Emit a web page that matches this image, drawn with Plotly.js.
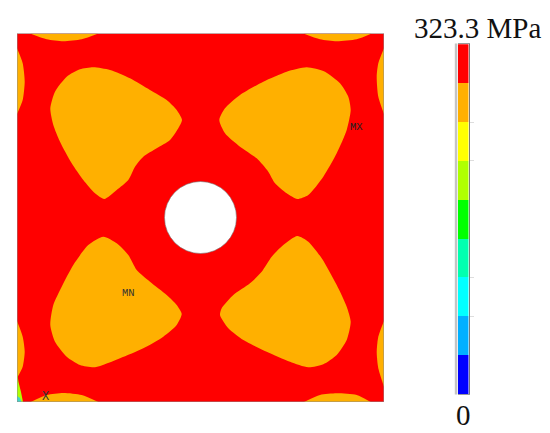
<!DOCTYPE html>
<html>
<head>
<meta charset="utf-8">
<script src="https://cdn.plot.ly/plotly-3.0.1.min.js"></script>
<style>html,body{margin:0;padding:0;background:#fff}</style>
</head>
<body>
<div id="graph" style="width:550px;height:433px"></div>
<script>
// contour outlines, x/y in plate units
var plateX = [17, 384, 384, 17, 17];
var plateY = [33.5, 33.5, 402, 402, 33.5];

var blobTLx = [93.3,110,130,150,166.7,176.7,182,178.3,170,156.7,143.3,135,128.3,116.7,104.3,95,83.3,71.7,60,53.3,50.3,55,66.7,80,93.3];
var blobTLy = [67.3,70,78.3,90,100,110,120,128.3,140,148.3,156.7,166.7,180,190,199,193.3,180,163.3,141.7,125,108.3,91.7,76.7,69.3,67.3];
var blobTRx = [306.7,325,340,348.3,350.7,346.7,336.7,323.3,308.3,297.3,286.7,275,268.3,256.7,240,225,219.3,225,240,263.3,286.7,306.7];
var blobTRy = [67.3,71.7,83.3,96.7,110,130,153.3,176.7,195,199,193.3,183.3,171.7,158.3,146.7,133.3,120,108.3,95,81.7,71.7,67.3];
var blobBLx = [103.3,116.7,128.3,136.7,150,166.7,176.7,181.7,176.7,163.3,143.3,120,95,80,66.7,55,50.3,53.3,61.7,73.3,88.3,103.3];
var blobBLy = [236.7,243.3,255,270,281.7,295,305,314,325,336.7,348.3,358.3,367.3,365,356.7,341.7,325,305,286.7,265,245,236.7];
var blobBRx = [297.3,308.3,321.7,336.7,346.7,350.7,346.7,336.7,323.3,308.3,290,266.7,243.3,228.3,220,221.7,233.3,250,261.7,271.7,283.3,297.3];
var blobBRy = [236,241.7,258.3,285,306.7,321.7,340,355,364.3,367.3,361.7,351.7,340,328.3,315,308.3,295,283.3,271.7,256.7,245,236];

var capTLx = [30,46.7,63.3,81.7,98.3], capTLy = [33.5,39.3,41.3,39.3,33.5];
var capTRx = [303.3,320,336.7,356.7,371.7], capTRy = [33.5,39.3,41.3,39.3,33.5];
var capBLx = [30.7,46.7,63.3,81.7,98.3], capBLy = [402,395,393,395,402];
var capBRx = [304,320,336.7,356.7,370.7], capBRy = [402,395,393.3,395,402];
var capLTx = [17,22.7,24.7,22.7,17], capLTy = [48.3,63.3,81.7,100,114];
var capLBx = [17,22.7,24.7,22.7,17], capLBy = [321,336.7,351.7,366.7,378];
var capRTx = [384,378.3,376.7,378.3,384], capRTy = [48.3,63.3,76.7,96.7,114];
var capRBx = [384,378.3,376.7,378.3,384], capRBy = [321,336.7,351.7,368.3,386.7];

// low stress slivers in the bottom left corner
var limeX = [17,18.5,21,23,17], limeY = [372,382,392,402,402];
var tealX = [17,20,21.5,17], tealY = [396,398,402,402];

var holeCx = 200.5, holeCy = 217.5, holeR = 36;

// legend bands, low to high
var bandColors = ['#0000ff','#00b0ff','#00ffff','#00ffb0','#00ff00','#b0ff00','#ffff00','#ffb000','#ff0000'];
var bandStep = 323.3 / 9;
var legendTicks = [bandStep * 2, bandStep * 3, bandStep * 6, bandStep * 7];

var W = 550, H = 433;
var data = [];

function addPoly(xs, ys, color, smooth) {
  data.push({
    x: xs, y: ys, type: 'scatter', mode: 'lines', fill: 'toself', fillcolor: color,
    line: {color: color, width: 0, shape: smooth ? 'spline' : 'linear', smoothing: 0.65},
    hoverinfo: 'skip', showlegend: false
  });
}

addPoly(plateX, plateY, '#ff0000', false);
var orange = '#ffb000';
addPoly(blobTLx, blobTLy, orange, true);
addPoly(blobTRx, blobTRy, orange, true);
addPoly(blobBLx, blobBLy, orange, true);
addPoly(blobBRx, blobBRy, orange, true);
addPoly(capTLx, capTLy, orange, true);
addPoly(capTRx, capTRy, orange, true);
addPoly(capBLx, capBLy, orange, true);
addPoly(capBRx, capBRy, orange, true);
addPoly(capLTx, capLTy, orange, true);
addPoly(capLBx, capLBy, orange, true);
addPoly(capRTx, capRTy, orange, true);
addPoly(capRBx, capRBy, orange, true);
addPoly(limeX, limeY, '#b0ff00', false);
addPoly(tealX, tealY, '#40d8c8', false);

// plate outline
data.push({x: plateX, y: plateY, type: 'scatter', mode: 'lines',
  line: {color: '#8c8c8c', width: 1}, hoverinfo: 'skip', showlegend: false, cliponaxis: false});

// legend column as a stacked bar
bandColors.forEach(function(c) {
  data.push({x: [0], y: [bandStep], type: 'bar', xaxis: 'x2', yaxis: 'y2', width: 1,
    marker: {color: c, line: {width: 0}}, hoverinfo: 'skip', showlegend: false});
});

var layout = {
  width: W, height: H,
  margin: {l: 0, r: 0, t: 0, b: 0},
  paper_bgcolor: '#fff', plot_bgcolor: 'rgba(0,0,0,0)',
  barmode: 'stack', bargap: 0, showlegend: false,
  font: {family: '"Liberation Serif", serif', color: '#111'},
  xaxis: {domain: [17 / W, 384 / W], range: [17, 384], visible: false, fixedrange: true},
  yaxis: {domain: [1 - 402 / H, 1 - 33.5 / H], range: [402, 33.5], visible: false, fixedrange: true},
  xaxis2: {domain: [457.5 / W, 468.5 / W], range: [-0.5, 0.5], anchor: 'y2', showgrid: false, zeroline: false,
    showticklabels: false, ticks: '', showline: true, mirror: true, linecolor: '#9a9a9a', linewidth: 1, fixedrange: true},
  yaxis2: {domain: [1 - 394 / H, 1 - 44.3 / H], range: [0, 323.3], anchor: 'x2', side: 'right', showgrid: false, zeroline: false,
    tickmode: 'array', tickvals: legendTicks, showticklabels: false, ticks: 'outside', ticklen: 4, tickcolor: '#dddddd', tickwidth: 1,
    showline: true, linecolor: '#777', linewidth: 1, fixedrange: true},
  shapes: [
    {type: 'circle', xref: 'x', yref: 'y', x0: holeCx - holeR, x1: holeCx + holeR, y0: holeCy - holeR, y1: holeCy + holeR,
      fillcolor: '#fff', line: {color: '#777', width: 0.6}, layer: 'above'},
    {type: 'rect', xref: 'paper', yref: 'paper', x0: 454.8 / W, x1: 457.3 / W, y0: 1 - 394.5 / H, y1: 1 - 43.5 / H,
      fillcolor: '#c4c4c4', line: {width: 0}, layer: 'above'}
  ],
  annotations: [
    {text: '323.3 MPa', xref: 'paper', yref: 'paper', x: 477 / W, y: 1 - 28 / H, showarrow: false, xanchor: 'center', yanchor: 'middle',
      font: {size: 29, family: '"Liberation Serif", serif', color: '#111'}},
    {text: '0', xref: 'paper', yref: 'paper', x: 463 / W, y: 1 - 415 / H, showarrow: false, xanchor: 'center', yanchor: 'middle',
      font: {size: 29, family: '"Liberation Serif", serif', color: '#111'}},
    {text: 'MX', xref: 'x', yref: 'y', x: 356, y: 127, showarrow: false,
      font: {size: 10.5, family: '"Liberation Mono", monospace', color: '#222'}},
    {text: 'MN', xref: 'x', yref: 'y', x: 128, y: 293, showarrow: false,
      font: {size: 10.5, family: '"Liberation Mono", monospace', color: '#333'}},
    {text: 'X', xref: 'x', yref: 'y', x: 45, y: 397, showarrow: false,
      font: {size: 12, family: '"Liberation Mono", monospace', color: '#333'}}
  ]
};

Plotly.newPlot('graph', data, layout, {displayModeBar: false, staticPlot: true});
</script>
</body>
</html>
